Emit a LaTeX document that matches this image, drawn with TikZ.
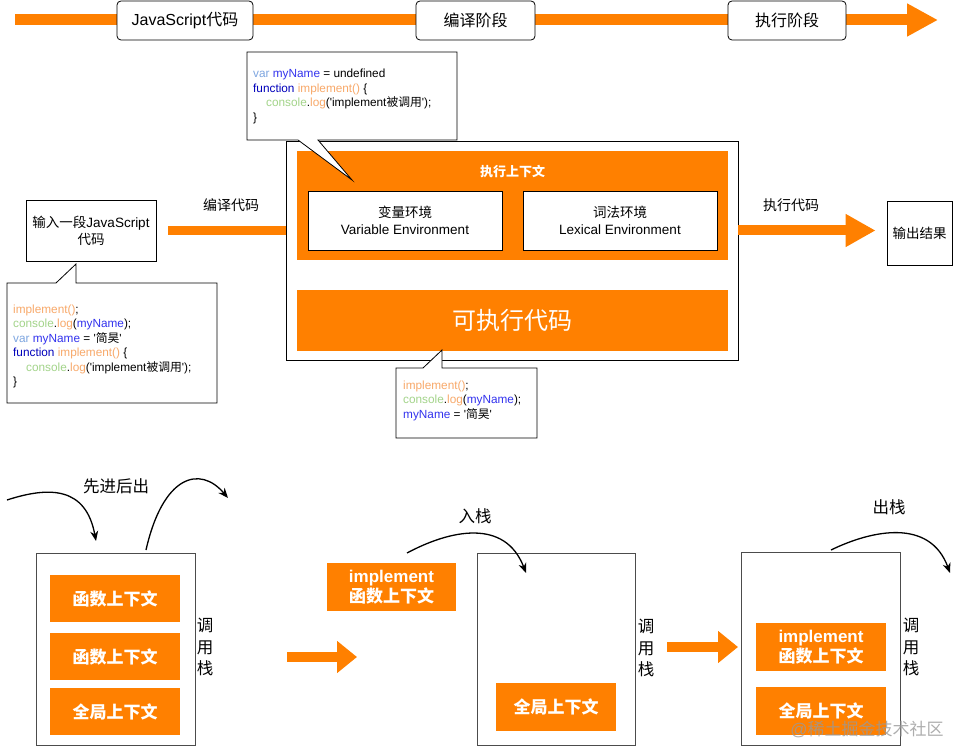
\documentclass[tikz,border=0pt]{standalone}
\usepackage{fontspec}
\setmainfont{Liberation Sans}
\newfontfamily\cjk{Noto Sans CJK SC}
\usetikzlibrary{arrows.meta}
\definecolor{jorange}{HTML}{FF8000}
\definecolor{cvar}{HTML}{7EA6E0}
\definecolor{cid}{HTML}{3333EE}
\definecolor{cfun}{HTML}{0000BB}
\definecolor{cimpl}{HTML}{F8A96A}
\definecolor{ccons}{HTML}{A3D48A}
\newcommand\zh[1]{{\cjk #1}}
\newcommand\q{\textquotesingle}
\newcommand\rbox[7]{\node[#2, minimum width={#5-#3}, minimum height={#6-#4}] (#1) at ({(#3+#5)/2},{(#4+#6)/2}) {#7};}
\newcommand\cl[3]{\node[codetext] (#1) at #2 {#3};}
\tikzset{
  topbox/.style={draw=black, line width=0.8pt, fill=white, rounded corners=4pt, inner sep=0pt, font=\fontsize{16}{19}\selectfont},
  plainbox/.style={draw=black, line width=0.8pt, fill=white, inner sep=0pt, align=center, font=\fontsize{13.5}{17}\selectfont},
  stackbox/.style={draw=black!70, line width=1pt, fill=white, inner sep=0pt},
  obox/.style={fill=jorange, inner sep=0pt, text=white, align=center, font=\fontsize{17}{20}\selectfont\bfseries},
  callout/.style={draw=black, line width=0.8pt, fill=white},
  codetext/.style={anchor=base west, inner sep=0pt, font=\fontsize{11.8}{13}\selectfont},
  lbl/.style={inner sep=0pt, font=\fontsize{14}{17}\selectfont},
  biglbl/.style={inner sep=0pt, align=center, font=\fontsize{16.5}{21.5}\selectfont},
  curvearrow/.style={line width=1.3pt, -{Stealth[length=10pt,width=8pt]}},
}
\begin{document}
\begin{tikzpicture}[x=1pt,y=-1pt]
\useasboundingbox (0,0) rectangle (953,746);

% ---------- top timeline ----------
\coordinate (tstart) at (15,20);
\coordinate (tend) at (938,20);
\draw[jorange, line width=11pt, -{Triangle[length={31pt 0 0}, width={31pt 0 0}]}] (tstart) -- (tend);
\rbox{js}{topbox}{117}{1}{253}{40}{JavaScript\zh{代码}}
\rbox{compile}{topbox}{416}{1}{535}{40}{\zh{编译阶段}}
\rbox{exec}{topbox}{728}{1}{846}{40}{\zh{执行阶段}}

% ---------- middle section ----------
\rbox{outer}{plainbox}{286}{141}{738}{360}{}
\rbox{ctx}{obox}{297}{151}{728}{260}{}
\node[inner sep=0pt, text=white, font=\fontsize{13}{16}\selectfont\bfseries] (ctxtitle) at (512.5,172) {\zh{执行上下文}};
\rbox{varenv}{plainbox}{308}{191}{502}{250}{\zh{变量环境}\\Variable Environment}
\rbox{lexenv}{plainbox}{523}{191}{717}{250}{\zh{词法环境}\\Lexical Environment}
\rbox{runcode}{obox}{297}{290}{728}{351}{\fontsize{24}{28}\selectfont\mdseries\zh{可执行代码}}

\rbox{input}{plainbox}{26}{200}{156}{261}{\zh{输入一段}JavaScript\\\zh{代码}}
\rbox{output}{plainbox}{887}{201}{952}{265}{\zh{输出结果}}

\coordinate (cstart) at ([xshift=12pt]input.east);
\draw[jorange, line width=9pt] (cstart) -- (cstart -| outer.west);
\node[lbl] (lcompile) at (231,205) {\zh{编译代码}};

\coordinate (estart) at (outer.east |- cstart);
\draw[jorange, line width=10pt, -{Triangle[length={30pt 0 0}, width={31pt 0 0}]}] (estart) -- ([xshift=-11pt]estart -| output.west);
\node[lbl] (lexec) at (791,205) {\zh{执行代码}};

% top callout
\draw[callout] (247,52) -- (457,52) -- (457,140) -- (318,140) -- (352,180) -- (298,140) -- (247,140) -- cycle;
\cl{a1}{(253,78)}{\textcolor{cvar}{var} \textcolor{cid}{myName} = undefined}
\cl{a2}{(253,92.5)}{\textcolor{cfun}{function} \textcolor{cimpl}{implement()} \{}
\cl{a3}{(266,107)}{\textcolor{ccons}{console}.\textcolor{cimpl}{log}(\q implement\zh{被调用}\q);}
\cl{a4}{(253,121.5)}{\}}

% left callout
\draw[callout] (7,283) -- (56,283) -- (76,264) -- (76,283) -- (217,283) -- (217,403) -- (7,403) -- cycle;
\cl{b1}{(13,313)}{\textcolor{cimpl}{implement()};}
\cl{b2}{(13,327.5)}{\textcolor{ccons}{console}.\textcolor{cimpl}{log}(\textcolor{cid}{myName});}
\cl{b3}{(13,342)}{\textcolor{cvar}{var} \textcolor{cid}{myName} = \q\zh{简昊}\q}
\cl{b4}{(13,356.5)}{\textcolor{cfun}{function} \textcolor{cimpl}{implement()} \{}
\cl{b5}{(26,371)}{\textcolor{ccons}{console}.\textcolor{cimpl}{log}(\q implement\zh{被调用}\q);}
\cl{b6}{(13,385.5)}{\}}

% bottom callout
\draw[callout] (396,368) -- (423,368) -- (442,350) -- (442,368) -- (537,368) -- (537,438) -- (396,438) -- cycle;
\cl{c1}{(403,389)}{\textcolor{cimpl}{implement()};}
\cl{c2}{(403,403.5)}{\textcolor{ccons}{console}.\textcolor{cimpl}{log}(\textcolor{cid}{myName});}
\cl{c3}{(403,418)}{\textcolor{cid}{myName} = \q\zh{简昊}\q}

% ---------- bottom: stack 1 ----------
\rbox{stackA}{stackbox}{36}{553}{195}{745}{}
\rbox{fa1}{obox}{50}{575}{180}{622}{\zh{函数上下文}}
\rbox{fa2}{obox}{50}{633}{180}{680}{\zh{函数上下文}}
\rbox{ga}{obox}{50}{688}{180}{735}{\zh{全局上下文}}
\node[biglbl] (csA) at (205,647) {\zh{调}\\\zh{用}\\\zh{栈}};
\node[biglbl] (lifo) at (116,486) {\zh{先进后出}};
\coordinate (inA) at (7,500);
\coordinate (inAend) at (96,541);
\draw[curvearrow] (inA) .. controls (50,486) and (86,487) .. (inAend);
\coordinate (outA) at (146,550);
\coordinate (outAend) at (228,498);
\draw[curvearrow] (outA) .. controls (163,475) and (200,465) .. (outAend);

% ---------- bottom: stack 2 ----------
\rbox{implB}{obox}{327}{563}{456}{611}{implement\\\zh{函数上下文}}
\coordinate (arB1) at (287,657);
\coordinate (arB2) at (357,657);
\draw[jorange, line width=10pt, -{Triangle[length={20pt 0 0}, width={31pt 0 0}]}] (arB1) -- (arB2);
\rbox{stackB}{stackbox}{477}{553}{635}{745}{}
\rbox{gb}{obox}{496}{683}{616}{731}{\zh{全局上下文}}
\node[biglbl] (csB) at (646,648) {\zh{调}\\\zh{用}\\\zh{栈}};
\node[biglbl] (push) at (475,516) {\zh{入栈}};
\coordinate (inB) at (407,553);
\coordinate (inBend) at (526,573);
\draw[curvearrow] (inB) .. controls (450,530) and (505,518) .. (inBend);

% ---------- bottom: stack 3 ----------
\coordinate (arC1) at (667,647);
\coordinate (arC2) at (738,647);
\draw[jorange, line width=10pt, -{Triangle[length={20pt 0 0}, width={31pt 0 0}]}] (arC1) -- (arC2);
\rbox{stackC}{stackbox}{741}{552}{900}{745}{}
\rbox{implC}{obox}{756}{623}{886}{671}{implement\\\zh{函数上下文}}
\rbox{gc}{obox}{756}{687}{886}{735}{\zh{全局上下文}}
\node[biglbl] (csC) at (911,647) {\zh{调}\\\zh{用}\\\zh{栈}};
\node[biglbl] (pop) at (889,507) {\zh{出栈}};
\coordinate (outC) at (831,550);
\coordinate (outCend) at (950,573);
\draw[curvearrow] (outC) .. controls (872,530) and (930,518) .. (outCend);

% watermark
\node[inner sep=0pt, text=black!40, opacity=0.8, font=\fontsize{17}{20}\selectfont] (wm) at (867,729) {@\zh{稀土掘金技术社区}};
\end{tikzpicture}
\end{document}
